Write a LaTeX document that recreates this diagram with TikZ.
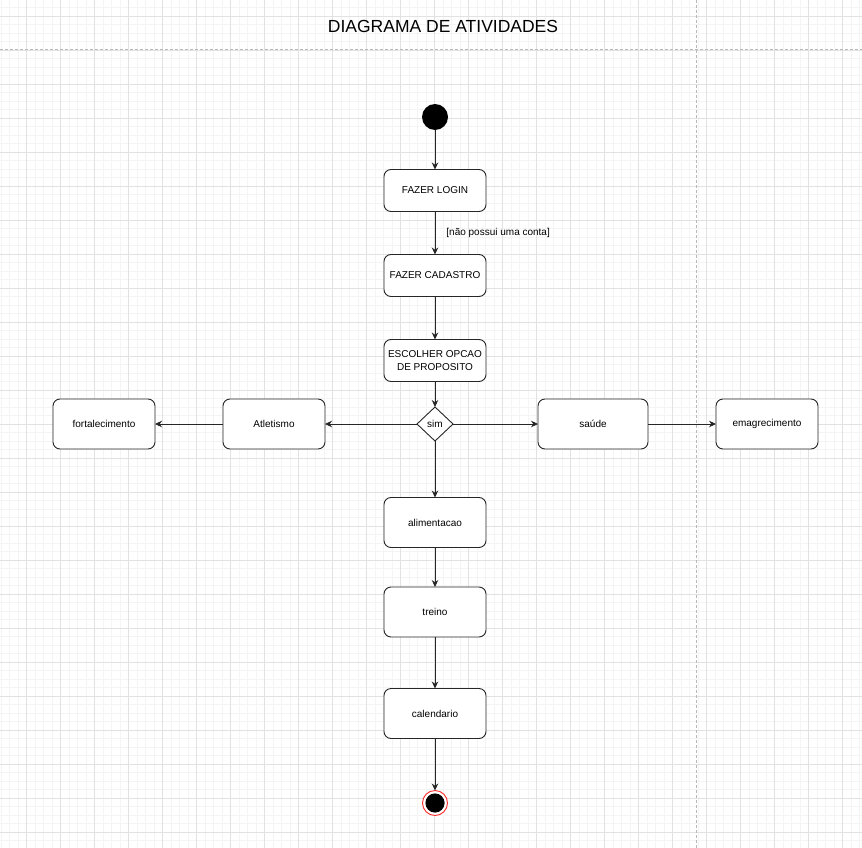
\documentclass[tikz,border=0pt]{standalone}
\usepackage{fontspec}
\setmainfont{Liberation Sans}
\usetikzlibrary{arrows.meta,positioning,shapes.geometric}
\definecolor{gridmajor}{HTML}{E2E2E2}
\definecolor{gridminor}{HTML}{F4F4F4}
\definecolor{pageline}{HTML}{B8B8B8}
\definecolor{umlred}{HTML}{FF2A2A}
\tikzset{
  act/.style        = {draw=black!85, line width=0.9pt, rounded corners=7pt, fill=white, outer sep=0pt,
                       minimum width=102pt, minimum height=42pt, inner sep=2pt, align=center},
  acttall/.style    = {act, minimum height=50pt},
  choice/.style     = {draw=black!85, line width=0.9pt, diamond, fill=white, outer sep=0pt,
                       minimum width=36pt, minimum height=34pt, inner sep=0pt},
  startdot/.style   = {circle, fill=black, minimum size=26pt, inner sep=0pt, outer sep=0pt},
  enddot/.style     = {circle, draw=umlred, line width=0.9pt, fill=white, minimum size=25pt,
                       inner sep=0pt, outer sep=0pt,
                       path picture={\fill[black] (path picture bounding box.center) circle (9.6pt);}},
  flow/.style       = {-{Stealth[length=7pt,width=6.5pt]}, line width=0.9pt, draw=black!85},
  guard/.style      = {inner sep=0pt},
  minorgrid/.style  = {draw=gridminor, line width=0.8pt},
  majorgrid/.style  = {draw=gridmajor, line width=0.8pt},
  pageedge/.style   = {draw=pageline, line width=0.8pt, dash pattern=on 3pt off 2pt},
  every node/.style = {font=\fontsize{10}{13}\selectfont},
}
\begin{document}
\begin{tikzpicture}[x=1pt, y=-1pt]
  \useasboundingbox[fill=white] (0,0) rectangle (862,848);
  \foreach \gx in {1.2,9.7,...,862} \draw[minorgrid] (\gx,0) -- (\gx,848);
  \foreach \gy in {-1,7.5,...,848} \draw[minorgrid] (0,\gy) -- (862,\gy);
  \foreach \gx in {26.7,60.7,...,862} \draw[majorgrid] (\gx,0) -- (\gx,848);
  \foreach \gy in {16,50,...,848} \draw[majorgrid] (0,\gy) -- (862,\gy);
  \draw[pageedge] (0,49.5) -- (862,49.5);
  \draw[pageedge] (696,0) -- (696,848);

  \node[font=\fontsize{17.5}{21}\selectfont] (titulo) at (443,26) {DIAGRAMA DE ATIVIDADES};

  \node[startdot] (inicio) at (435,117) {};
  \node[act, below=39.5pt of inicio] (login) {FAZER LOGIN};
  \node[act, below=43pt of login] (cadastro) {FAZER CADASTRO};
  \node[act, below=43pt of cadastro] (escolha) {ESCOLHER OPCAO\\DE PROPOSITO};
  \node[choice, below=25.5pt of escolha] (decisao) {sim};
  \node[acttall, left=92pt of decisao] (atletismo) {Atletismo};
  \node[acttall, left=68pt of atletismo] (fortalecimento) {fortalecimento};
  \node[acttall, minimum width=110pt, right=85pt of decisao] (saude) {saúde};
  \node[acttall, right=68pt of saude] (emagrecimento) {emagrecimento};
  \node[acttall, below=56.5pt of decisao] (alimentacao) {alimentacao};
  \node[acttall, below=39.5pt of alimentacao] (treino) {treino};
  \node[acttall, below=51.5pt of treino] (calendario) {calendario};
  \node[enddot, below=52pt of calendario] (fim) {};

  \draw[flow] (inicio) -- (login);
  \draw[flow] (login) -- (cadastro) node[midway, right=11pt, guard] {[não possui uma conta]};
  \draw[flow] (cadastro) -- (escolha);
  \draw[flow] (escolha) -- (decisao);
  \draw[flow] (decisao) -- (atletismo);
  \draw[flow] (atletismo) -- (fortalecimento);
  \draw[flow] (decisao) -- (saude);
  \draw[flow] (saude) -- (emagrecimento);
  \draw[flow] (decisao) -- (alimentacao);
  \draw[flow] (alimentacao) -- (treino);
  \draw[flow] (treino) -- (calendario);
  \draw[flow] (calendario) -- (fim);
\end{tikzpicture}
\end{document}
